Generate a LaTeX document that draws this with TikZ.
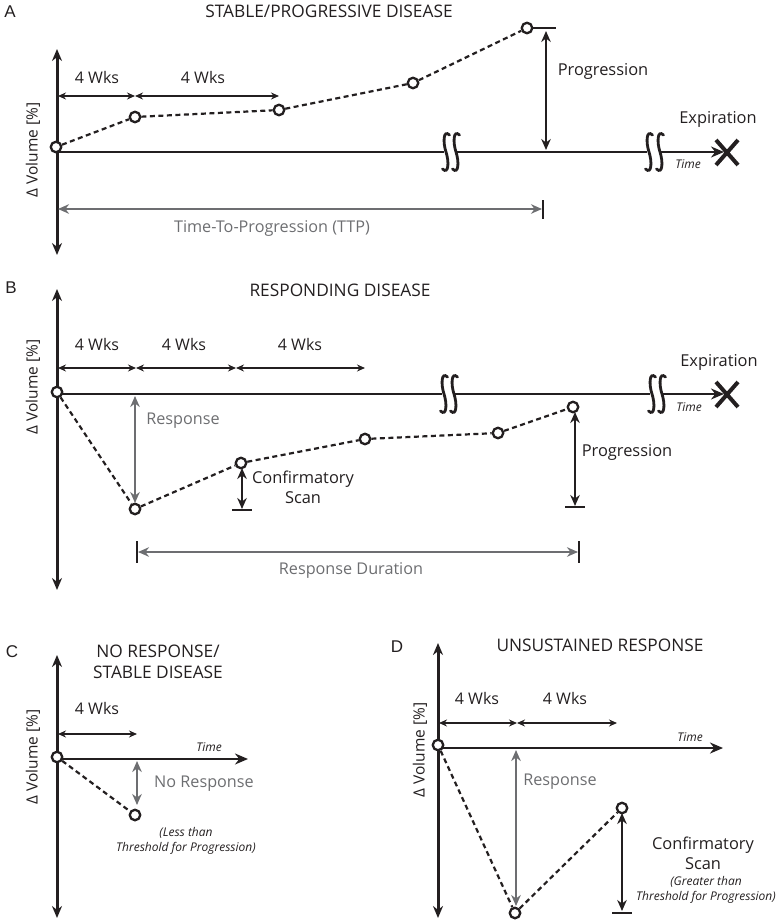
\documentclass[tikz,border=0pt]{standalone}
\usepackage{fontspec}
\setmainfont{Open Sans}
\newfontfamily\helv{Liberation Sans}
\usetikzlibrary{arrows.meta}
\definecolor{ink}{RGB}{35,31,32}
\definecolor{gry}{RGB}{109,110,113}
\begin{document}
\begin{tikzpicture}[x=1pt,y=-1pt,
  every node/.style={text=ink},
  pt/.style={circle,draw=ink,line width=2.3pt,fill=white,inner sep=0pt,minimum size=10.5pt},
  yax/.style={draw=ink,line width=3pt,{Stealth[length=12pt,width=10pt]}-{Stealth[length=12pt,width=10pt]}},
  tax/.style={draw=ink,line width=2.6pt},
  taxarr/.style={draw=ink,line width=2.6pt,-{Stealth[length=13pt,width=11pt]}},
  dline/.style={draw=ink,line width=2.2pt,dash pattern=on 5pt off 3.5pt},
  wk/.style={draw=ink,line width=1.5pt,{Stealth[length=8pt,width=7pt]}-{Stealth[length=8pt,width=7pt]}},
  meas/.style={draw=ink,line width=2.3pt,{Stealth[length=11pt,width=9.5pt]}-{Stealth[length=11pt,width=9.5pt]}},
  gmeas/.style={draw=gry,line width=2.3pt,{Stealth[length=11pt,width=9.5pt]}-{Stealth[length=11pt,width=9.5pt]}},
  bar/.style={draw=ink,line width=2.4pt},
  brk/.style={draw=ink,line width=2.8pt,line cap=round},
  title/.style={font=\fontsize{17.3}{21}\selectfont},
  lbl/.style={font=\fontsize{16.4}{20}\selectfont},
  wklbl/.style={font=\fontsize{16}{19}\selectfont},
  glbl/.style={font=\fontsize{16.2}{19}\selectfont,text=gry},
  small/.style={font=\fontsize{12}{15.5}\selectfont\itshape,align=center},
  timel/.style={font=\fontsize{12}{14}\selectfont\itshape},
  letter/.style={font=\helv\fontsize{17}{20}\selectfont},
  vol/.style={font=\fontsize{15.5}{18}\selectfont,rotate=90}
]
\useasboundingbox (0,0) rectangle (780,923);

% ================= PANEL A =================
\node[letter] (LA) at (10,12) {A};
\node[title] (TA) at (329,11) {STABLE/PROGRESSIVE DISEASE};
\coordinate (ya1) at (57,49); \coordinate (ya2) at (57,255);
\draw[yax] (ya1) -- (ya2);
\node[vol] (VA) at (33,150) {Δ Volume [\%]};
% time axis with breaks
\coordinate (ta0) at (57,152); \coordinate (ta1) at (444,152);
\coordinate (ta2) at (456,152); \coordinate (ta3) at (647,152);
\coordinate (ta4) at (659,152); \coordinate (ta5) at (724,152);
\draw[tax] (ta0) -- (ta1);
\draw[tax] (ta2) -- (ta3);
\draw[taxarr] (ta4) -- (ta5);
\foreach \bx in {446,456,649,660}{
  \draw[brk] (\bx+3.5,135) .. controls (\bx-3,129) and (\bx-3,143) .. (\bx,152)
             .. controls (\bx+3,161) and (\bx+3,175) .. (\bx-3.5,169);
}
\draw[draw=ink,line width=4pt] (716,140) -- (738,165) (738,140) -- (716,165);
\node[lbl] (EA) at (718,119) {Expiration};
\node[timel] (TmA) at (688,164) {Time};
% data
\node[pt] (a0) at (56,147) {};
\node[pt] (a1) at (135,117) {};
\node[pt] (a2) at (279,110) {};
\node[pt] (a3) at (413,83) {};
\node[pt] (a4) at (527,28) {};
\draw[dline] (a0) -- (a1) -- (a2) -- (a3) -- (a4);
\coordinate (a4t) at (556,28);
\draw[bar] (a4.east) -- (a4t);
% 4 Wks
\coordinate (wa0) at (58,96); \coordinate (wa1) at (135,96); \coordinate (wa2) at (279,96);
\draw[wk] (wa0) -- (wa1);
\draw[wk] (wa1) -- (wa2);
\node[wklbl] (wla1) at (97,78) {4 Wks};
\node[wklbl] (wla2) at (203,78) {4 Wks};
% progression
\coordinate (pa1) at (546,31); \coordinate (pa2) at (546,150);
\draw[meas] (pa1) -- (pa2);
\node[lbl] (PA) at (603,71) {Progression};
% TTP
\coordinate (ttp0) at (58,209); \coordinate (ttp1) at (542,209);
\draw[gmeas] (ttp0) -- (ttp1);
\draw[bar] (543,200) -- (543,219);
\node[glbl] (TTP) at (272,228) {Time-To-Progression (TTP)};

% ================= PANEL B =================
\node[letter] (LB) at (11,288) {B};
\node[title] (TB) at (340,290) {RESPONDING DISEASE};
\coordinate (yb1) at (57,289); \coordinate (yb2) at (57,590);
\draw[yax] (yb1) -- (yb2);
\node[vol] (VB) at (33,387) {Δ Volume [\%]};
\coordinate (tb0) at (57,394); \coordinate (tb1) at (442,394);
\coordinate (tb2) at (454,394); \coordinate (tb3) at (650,394);
\coordinate (tb4) at (662,394); \coordinate (tb5) at (724,394);
\draw[tax] (tb0) -- (tb1);
\draw[tax] (tb2) -- (tb3);
\draw[taxarr] (tb4) -- (tb5);
\foreach \bx in {444,454,652,662}{
  \draw[brk] (\bx+3.5,377) .. controls (\bx-3,371) and (\bx-3,385) .. (\bx,394)
             .. controls (\bx+3,403) and (\bx+3,417) .. (\bx-3.5,411);
}
\draw[draw=ink,line width=4pt] (716,382) -- (738,407) (738,382) -- (716,407);
\node[lbl] (EB) at (719,362) {Expiration};
\node[timel] (TmB) at (689,407) {Time};
% data
\node[pt] (b0) at (57,392) {};
\node[pt] (b1) at (135,509) {};
\node[pt] (b2) at (241,463) {};
\node[pt] (b3) at (365,439) {};
\node[pt] (b4) at (498,433) {};
\node[pt] (b5) at (573,407) {};
\draw[dline] (b0) -- (b1) -- (b2) -- (b3) -- (b4) -- (b5);
% 4 Wks
\coordinate (wb0) at (58,368); \coordinate (wb1) at (136,368);
\coordinate (wb2) at (236,368); \coordinate (wb3) at (365,368);
\draw[wk] (wb0) -- (wb1);
\draw[wk] (wb1) -- (wb2);
\draw[wk] (wb2) -- (wb3);
\node[wklbl] (wlb1) at (97,344) {4 Wks};
\node[wklbl] (wlb2) at (184,344) {4 Wks};
\node[wklbl] (wlb3) at (300,344) {4 Wks};
% response
\coordinate (rb1) at (135,396); \coordinate (rb2) at (135,503);
\draw[gmeas] (rb1) -- (rb2);
\node[glbl] (RB) at (183,421) {Response};
% confirmatory
\coordinate (cb1) at (242,468); \coordinate (cb2) at (242,509);
\draw[meas] (cb1) -- (cb2);
\draw[bar] (232,510) -- (252,510);
\node[lbl,align=center] (CB) at (303,487) {Confirmatory\\Scan};
% progression
\coordinate (pb1) at (575,412); \coordinate (pb2) at (575,506);
\draw[meas] (pb1) -- (pb2);
\draw[bar] (565,507) -- (585,507);
\node[lbl] (PB) at (627,452) {Progression};
% response duration
\coordinate (rd0) at (138,552); \coordinate (rd1) at (578,552);
\draw[gmeas] (rd0) -- (rd1);
\draw[bar] (137,541) -- (137,563);
\draw[bar] (579,541) -- (579,563);
\node[glbl] (RD) at (351,570) {Response Duration};

% ================= PANEL C =================
\node[letter] (LC) at (12,652) {C};
\node[title,align=center] (TC) at (158,662) {NO RESPONSE/\\STABLE DISEASE};
\coordinate (yc1) at (57,655); \coordinate (yc2) at (57,918);
\draw[yax] (yc1) -- (yc2);
\node[vol] (VC) at (33,757) {Δ Volume [\%]};
\coordinate (tc0) at (57,759); \coordinate (tc1) at (248,759);
\draw[taxarr] (tc0) -- (tc1);
\node[timel] (TmC) at (209,747) {Time};
\node[pt] (c0) at (57,757) {};
\node[pt] (c1) at (135,815) {};
\draw[dline] (c0) -- (c1);
\coordinate (wc0) at (58,734); \coordinate (wc1) at (137,734);
\draw[wk] (wc0) -- (wc1);
\node[wklbl] (wlc1) at (97,708) {4 Wks};
\coordinate (nr1) at (137,761); \coordinate (nr2) at (137,805);
\draw[gmeas] (nr1) -- (nr2);
\node[glbl] (NR) at (204,784) {No Response};
\node[small] (LT) at (186,841) {(Less than\\Threshold for Progression)};

% ================= PANEL D =================
\node[letter] (LD) at (397,647) {D};
\node[title] (TD) at (600,645) {UNSUSTAINED RESPONSE};
\coordinate (yd1) at (438,643); \coordinate (yd2) at (438,918);
\draw[yax] (yd1) -- (yd2);
\node[vol] (VD) at (420,750) {Δ Volume [\%]};
\coordinate (td0) at (438,748); \coordinate (td1) at (723,748);
\draw[taxarr] (td0) -- (td1);
\node[timel] (TmD) at (690,737) {Time};
\node[pt] (d0) at (438,745) {};
\node[pt] (d1) at (515,913) {};
\node[pt] (d2) at (622,808) {};
\draw[dline] (d0) -- (d1) -- (d2);
\coordinate (wd0) at (439,723); \coordinate (wd1) at (517,723); \coordinate (wd2) at (617,723);
\draw[wk] (wd0) -- (wd1);
\draw[wk] (wd1) -- (wd2);
\node[wklbl] (wld1) at (477,698) {4 Wks};
\node[wklbl] (wld2) at (565,698) {4 Wks};
\coordinate (rd1a) at (516,750); \coordinate (rd2a) at (516,906);
\draw[gmeas] (rd1a) -- (rd2a);
\node[glbl] (RDd) at (560,782) {Response};
\coordinate (cd1) at (622,813); \coordinate (cd2) at (622,911);
\draw[meas] (cd1) -- (cd2);
\draw[bar] (612,913) -- (632,913);
\node[lbl,align=center] (CD) at (703,853) {Confirmatory\\Scan};
\node[small] (GT) at (706,890) {(Greater than\\Threshold for Progression)};
\end{tikzpicture}
\end{document}
